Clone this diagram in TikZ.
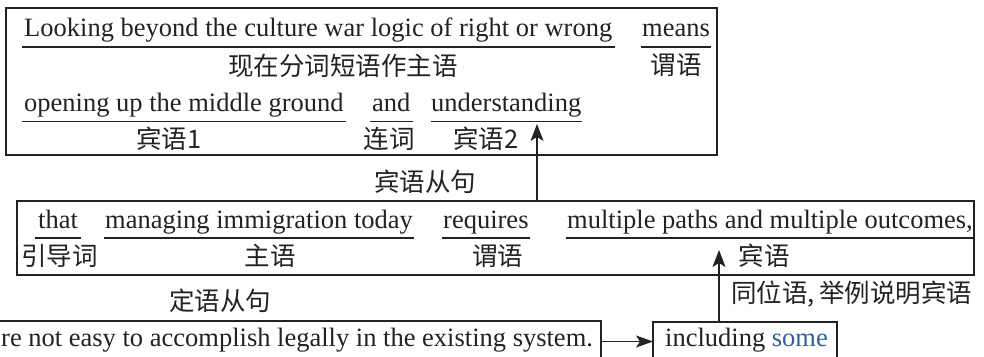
\documentclass[tikz,border=0pt]{standalone}
\usepackage{fontspec}
\setmainfont{Liberation Serif}
\newfontfamily\cjk{Noto Sans CJK SC}
\usetikzlibrary{arrows.meta,calc}
\definecolor{ink}{RGB}{34,34,34}
\definecolor{someblue}{RGB}{45,95,170}
\begin{document}
\begin{tikzpicture}[x=1pt,y=-1pt,
  en/.style={font=\fontsize{26.5}{30}\selectfont, text=ink, inner sep=0pt, anchor=base west},
  zh/.style={font=\cjk\fontsize{25.5}{30}\selectfont, text=ink, inner sep=0pt, anchor=base},
  box/.style={draw=ink, line width=1.2pt, rectangle, inner sep=0pt, outer sep=0pt},
  ul/.style={draw=ink, line width=1.1pt},
  arr/.style={draw=ink, line width=1.2pt, -{Stealth[length=17pt,width=13pt,inset=4pt]}}]
\useasboundingbox (0,0) rectangle (984,356);
\begin{scope}
\clip (0,0) rectangle (984,356);
% boxes
\node[box, minimum width=711pt, minimum height=147pt] (b1) at (361.5,81.5) {};
\node[box, minimum width=957pt, minimum height=74pt] (b2) at (495.5,238) {};
\node[box, minimum width=621pt, minimum height=49pt] (b3) at (290.5,345.5) {};
\node[box, minimum width=184pt, minimum height=48pt] (b4) at (745,346) {};
% box 1 row 1
\node[en] (w1) at (24,36.7) {Looking beyond the culture war logic of right or wrong};
\node[en] (w2) at (642,36.7) {means};
\draw[ul] ($(w1.base west)+(-2,10.3)$) -- ($(w1.base east)+(3,10.3)$);
\draw[ul] ($(w2.base west)+(-1,10.3)$) -- ($(w2.base east)+(1,10.3)$);
\node[zh] (z1) at (343,75.5) {现在分词短语作主语};
\node[zh] (z2) at (676,74.5) {谓语};
% box 1 row 2
\node[en] (w3) at (24,111.7) {opening up the middle ground};
\node[en] (w4) at (372,111.7) {and};
\node[en] (w5) at (431,111.7) {understanding};
\draw[ul] ($(w3.base west)+(-2,10)$) -- ($(w3.base east)+(2,10)$);
\draw[ul] ($(w4.base west)+(-2,10)$) -- ($(w4.base east)+(2,10)$);
\draw[ul] ($(w5.base west)+(0,10)$) -- ($(w5.base east)+(0,10)$);
\node[zh] (z3) at (169,148) {宾语1};
\node[zh] (z4) at (389,148) {连词};
\node[zh] (z5) at (486,148) {宾语2};
% arrow 1
\coordinate (t1) at (537,124);
\draw[arr] (b2.north -| t1) -- (t1);
\node[zh] (z6) at (425,191) {宾语从句};
% box 2
\node[en] (v1) at (38,228) {that};
\node[en] (v2) at (105,228) {managing immigration today};
\node[en] (v3) at (443,228) {requires};
\node[en] (v4) at (567,228) {multiple paths and multiple outcomes,};
\draw[ul] ($(v1.base west)+(-3,10)$) -- ($(v1.base east)+(3,10)$);
\draw[ul] ($(v2.base west)+(-1,10)$) -- ($(v2.base east)+(1,10)$);
\draw[ul] ($(v3.base west)+(-1,10)$) -- ($(v3.base east)+(1,10)$);
\draw[ul] ($(v4.base west)+(-1,10)$) -- ($(v4.base east)+(1,10)$);
\node[zh] (y1) at (59.5,265) {引导词};
\node[zh] (y2) at (270,265) {主语};
\node[zh] (y3) at (497.5,265) {谓语};
\node[zh] (y4) at (764,265) {宾语};
% arrow 2
\coordinate (t2) at (719,250);
\draw[arr] (b4.north -| t2) -- (t2);
\node[zh, anchor=base west] (y5) at (731,302) {同位语,\,举例说明宾语};
\node[zh] (y6) at (220,310) {定语从句};
% bottom row
\node[en] (u1) at (1,346) {re not easy to accomplish legally in the existing system.};
\node[en] (u2) at (665,346) {including \textcolor{someblue}{some}};
\coordinate (t3) at (0,341.5);
\draw[arr, -{Stealth[length=17pt,width=12pt,inset=4pt]}] (t3 -| b3.east) -- (t3 -| b4.west);
\end{scope}
\end{tikzpicture}
\end{document}
